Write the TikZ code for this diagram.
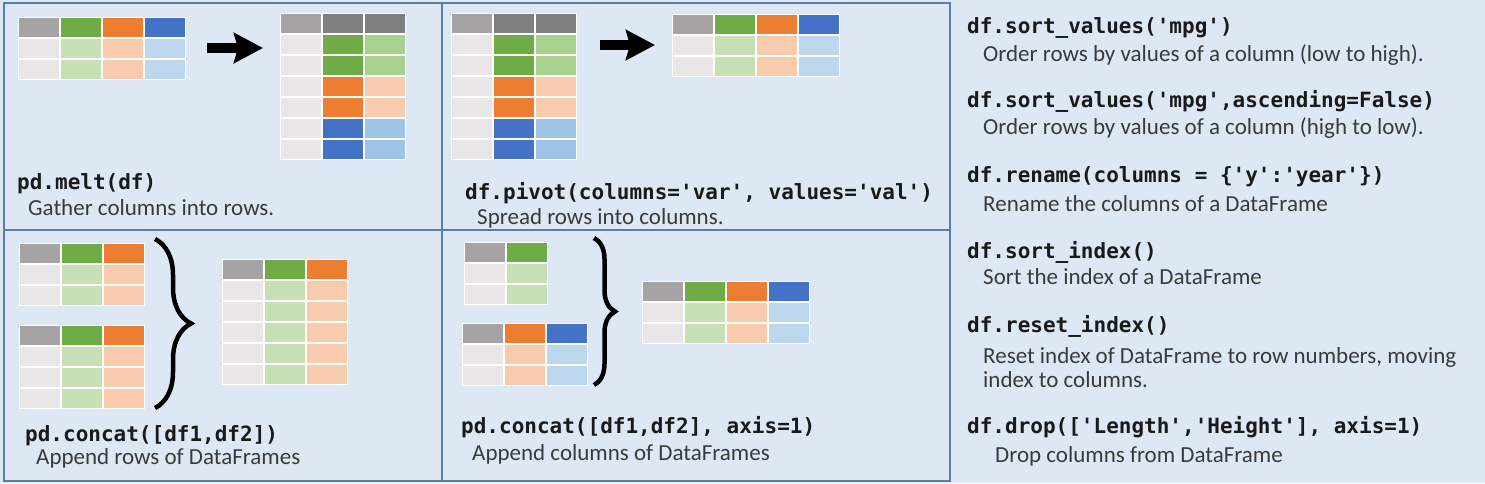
\documentclass[tikz,border=0pt]{standalone}
\usepackage{fontspec}
\setmainfont{Carlito}
\newfontfamily\codefont{DejaVu Sans Mono}
\usetikzlibrary{matrix,arrows.meta,decorations.pathreplacing}

\newcommand{\apos}{\textquotesingle}

\definecolor{sheetbg}{HTML}{DEE8F5}
\definecolor{frameline}{HTML}{5A7DA6}
\definecolor{desctext}{HTML}{3A3A3A}
\definecolor{codetext}{HTML}{1A1A1A}
\definecolor{hdgray}{HTML}{A5A3A3}
\definecolor{hddark}{HTML}{7F7F7F}
\definecolor{hdgreen}{HTML}{6FAC46}
\definecolor{hdorange}{HTML}{ED7D31}
\definecolor{hdblue}{HTML}{4472C4}
\definecolor{ltgray}{HTML}{E8E6E6}
\definecolor{ltgreen}{HTML}{C6E0B4}
\definecolor{ltorange}{HTML}{F8CBAD}
\definecolor{ltblue}{HTML}{BDD7EE}
\definecolor{mdgreen}{HTML}{A9D18E}
\definecolor{mdblue}{HTML}{9DC3E6}

\begin{document}
\begin{tikzpicture}[x=1pt, y=-1pt]

% Set the overall layout of the sheet
\tikzstyle{frame}=[draw=frameline, line width=1.5pt]
\tikzstyle{code}=[anchor=base west, inner sep=0pt, text=codetext, font=\codefont\bfseries\fontsize{21}{24}\selectfont]
\tikzstyle{desc}=[anchor=base west, inner sep=0pt, text=desctext, align=left, font=\fontsize{23}{24}\selectfont]
\tikzstyle{bigarrow}=[line width=10pt, -{Stealth[length=29pt, width=30pt, inset=4pt]}]
\tikzstyle{bigbrace}=[line width=4.5pt, decorate, decoration={brace, aspect=0.5}]

% Define styles for tables and cells
\tikzstyle{cell}=[draw=white, line width=1pt, minimum width=41pt, minimum height=20pt, inner sep=0pt, outer sep=0pt]
\tikzstyle{tbl}=[matrix of nodes, anchor=north west, inner sep=0pt, nodes in empty cells, nodes={cell}]
\tikzstyle{gyH}=[fill=hdgray]
\tikzstyle{dkH}=[fill=hddark]
\tikzstyle{gnH}=[fill=hdgreen]
\tikzstyle{orH}=[fill=hdorange]
\tikzstyle{blH}=[fill=hdblue]
\tikzstyle{gyL}=[fill=ltgray]
\tikzstyle{gnL}=[fill=ltgreen]
\tikzstyle{orL}=[fill=ltorange]
\tikzstyle{blL}=[fill=ltblue]
\tikzstyle{gnM}=[fill=mdgreen]
\tikzstyle{blM}=[fill=mdblue]

\fill[sheetbg] (0,0) rectangle (1485,483);
\draw[frame] (4,3) rectangle (950,481);
\draw[frame] (442,3) -- (442,481);
\draw[frame] (4,230) -- (950,230);

% pd.melt
\matrix (meltin) [tbl] at (18,17) {
|[gyH]| & |[gnH]| & |[orH]| & |[blH]| \\
|[gyL]| & |[gnL]| & |[orL]| & |[blL]| \\
|[gyL]| & |[gnL]| & |[orL]| & |[blL]| \\
};
\matrix (meltout) [tbl] at (280,13) {
|[gyH]| & |[dkH]| & |[dkH]| \\
|[gyL]| & |[gnH]| & |[gnM]| \\
|[gyL]| & |[gnH]| & |[gnM]| \\
|[gyL]| & |[orH]| & |[orL]| \\
|[gyL]| & |[orH]| & |[orL]| \\
|[gyL]| & |[blH]| & |[blM]| \\
|[gyL]| & |[blH]| & |[blM]| \\
};
\coordinate (meltfrom) at (207,48);
\coordinate (meltto) at (263,48);
\draw[bigarrow] (meltfrom) -- (meltto);
\node[code] (meltcode) at (17,189) {pd.melt(df)};
\node[desc] (meltdesc) at (28,215) {Gather columns into rows.};

% df.pivot
\matrix (pivotin) [tbl] at (451,13) {
|[gyH]| & |[dkH]| & |[dkH]| \\
|[gyL]| & |[gnH]| & |[gnM]| \\
|[gyL]| & |[gnH]| & |[gnM]| \\
|[gyL]| & |[orH]| & |[orL]| \\
|[gyL]| & |[orH]| & |[orL]| \\
|[gyL]| & |[blH]| & |[blM]| \\
|[gyL]| & |[blH]| & |[blM]| \\
};
\matrix (pivotout) [tbl] at (672,14) {
|[gyH]| & |[gnH]| & |[orH]| & |[blH]| \\
|[gyL]| & |[gnL]| & |[orL]| & |[blL]| \\
|[gyL]| & |[gnL]| & |[orL]| & |[blL]| \\
};
\coordinate (pivotfrom) at (600,45);
\coordinate (pivotto) at (655,45);
\draw[bigarrow] (pivotfrom) -- (pivotto);
\node[code] (pivotcode) at (465,199) {df.pivot(columns=\apos var\apos, values=\apos val\apos)};
\node[desc] (pivotdesc) at (477,224) {Spread rows into columns.};

% pd.concat rows
\matrix (rowsa) [tbl] at (19,243) {
|[gyH]| & |[gnH]| & |[orH]| \\
|[gyL]| & |[gnL]| & |[orL]| \\
|[gyL]| & |[gnL]| & |[orL]| \\
};
\matrix (rowsb) [tbl] at (19,325) {
|[gyH]| & |[gnH]| & |[orH]| \\
|[gyL]| & |[gnL]| & |[orL]| \\
|[gyL]| & |[gnL]| & |[orL]| \\
|[gyL]| & |[gnL]| & |[orL]| \\
};
\matrix (rowsout) [tbl] at (222,259) {
|[gyH]| & |[gnH]| & |[orH]| \\
|[gyL]| & |[gnL]| & |[orL]| \\
|[gyL]| & |[gnL]| & |[orL]| \\
|[gyL]| & |[gnL]| & |[orL]| \\
|[gyL]| & |[gnL]| & |[orL]| \\
|[gyL]| & |[gnL]| & |[orL]| \\
};
\coordinate (rowstop) at (155,239);
\coordinate (rowsbot) at (155,408);
\draw[bigbrace, decoration={amplitude=36pt}] (rowstop) -- (rowsbot);
\node[code] (rowscode) at (25,441) {pd.concat([df1,df2])};
\node[desc] (rowsdesc) at (36,464) {Append rows of DataFrames};

% pd.concat columns
\matrix (colsa) [tbl] at (464,242) {
|[gyH]| & |[gnH]| \\
|[gyL]| & |[gnL]| \\
|[gyL]| & |[gnL]| \\
};
\matrix (colsb) [tbl] at (462,323) {
|[gyH]| & |[orH]| & |[blH]| \\
|[gyL]| & |[orL]| & |[blL]| \\
|[gyL]| & |[orL]| & |[blL]| \\
};
\matrix (colsout) [tbl] at (642,281) {
|[gyH]| & |[gnH]| & |[orH]| & |[blH]| \\
|[gyL]| & |[gnL]| & |[orL]| & |[blL]| \\
|[gyL]| & |[gnL]| & |[orL]| & |[blL]| \\
};
\coordinate (colstop) at (594,238);
\coordinate (colsbot) at (594,385);
\draw[bigbrace, decoration={amplitude=21pt}] (colstop) -- (colsbot);
\node[code] (colscode) at (461,433) {pd.concat([df1,df2], axis=1)};
\node[desc] (colsdesc) at (472,460) {Append columns of DataFrames};

% Sorting and renaming
\node[code] (sortcode) at (967,33) {df.sort\_values(\apos mpg\apos)};
\node[desc] (sortdesc) at (983,61) {Order rows by values of a column (low to high).};
\node[code] (sortdowncode) at (967,107) {df.sort\_values(\apos mpg\apos,ascending=False)};
\node[desc] (sortdowndesc) at (983,134) {Order rows by values of a column (high to low).};
\node[code] (renamecode) at (967,182) {df.rename(columns = \{\apos y\apos:\apos year\apos\})};
\node[desc] (renamedesc) at (983,211) {Rename the columns of a DataFrame};
\node[code] (indexcode) at (967,258) {df.sort\_index()};
\node[desc] (indexdesc) at (983,284) {Sort the index of a DataFrame};
\node[code] (resetcode) at (967,332) {df.reset\_index()};
\node[desc] (resetdesc) at (983,387) {Reset index of DataFrame to row numbers, moving\\index to columns.};
\node[code] (dropcode) at (967,433) {df.drop([\apos Length\apos,\apos Height\apos], axis=1)};
\node[desc] (dropdesc) at (995,462) {Drop columns from DataFrame};

\end{tikzpicture}
\end{document}
